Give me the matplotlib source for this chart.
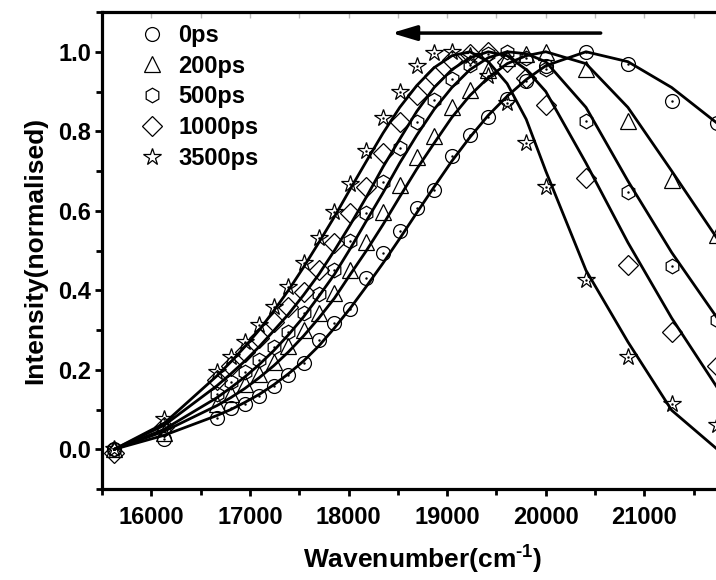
import matplotlib.pyplot as plt
from matplotlib.lines import Line2D

plt.rcParams['font.family'] = ['Liberation Sans', 'DejaVu Sans']
plt.rcParams['font.weight'] = 'bold'
plt.rcParams['mathtext.fontset'] = 'custom'
plt.rcParams['mathtext.rm'] = 'Liberation Sans:bold'
plt.rcParams['mathtext.bf'] = 'Liberation Sans:bold'

# wavenumber grid (cm-1), same for all delays
wavenumber = [15625, 16129, 16667, 16807, 16949, 17094, 17241, 17391, 17544, 17699,
              17857, 18018, 18182, 18349, 18519, 18692, 18868, 19048, 19231, 19417,
              19608, 19802, 20000, 20408, 20833, 21277, 21739]

labels = ['0ps', '200ps', '500ps', '1000ps', '3500ps']

# measured points
pts_0 = [0.0, 0.027, 0.078, 0.105, 0.113, 0.135, 0.16, 0.186, 0.217, 0.276, 0.317, 0.352, 0.43, 0.494,
         0.548, 0.607, 0.652, 0.738, 0.79, 0.837, 0.882, 0.927, 0.965, 1.0, 0.969, 0.877, 0.82]
pts_200 = [0.0, 0.04, 0.115, 0.14, 0.165, 0.19, 0.22, 0.26, 0.3, 0.342, 0.392, 0.45, 0.522, 0.598,
           0.665, 0.736, 0.788, 0.86, 0.904, 0.955, 0.985, 0.995, 1.0, 0.956, 0.827, 0.678, 0.54]
pts_500 = [0.0, 0.05, 0.14, 0.17, 0.195, 0.224, 0.256, 0.295, 0.343, 0.39, 0.451, 0.525, 0.594, 0.672,
           0.757, 0.824, 0.879, 0.932, 0.967, 0.995, 1.0, 0.985, 0.957, 0.827, 0.647, 0.461, 0.325]
pts_1000 = [-0.01, 0.055, 0.175, 0.21, 0.245, 0.28, 0.32, 0.358, 0.396, 0.451, 0.518, 0.594, 0.66, 0.745,
            0.824, 0.892, 0.94, 0.98, 0.995, 1.0, 0.975, 0.934, 0.866, 0.682, 0.463, 0.296, 0.21]
pts_3500 = [0.0, 0.077, 0.195, 0.233, 0.27, 0.312, 0.358, 0.409, 0.468, 0.531, 0.598, 0.667, 0.75, 0.833,
            0.9, 0.963, 0.998, 1.0, 0.99, 0.94, 0.87, 0.77, 0.66, 0.426, 0.231, 0.113, 0.06]

# fitted curves
fit_0 = [0.0, 0.035, 0.085, 0.1, 0.118, 0.138, 0.162, 0.19, 0.222, 0.26, 0.305, 0.355, 0.41, 0.468,
         0.53, 0.595, 0.66, 0.725, 0.785, 0.84, 0.888, 0.93, 0.965, 1.0, 0.975, 0.91, 0.82]
fit_200 = [0.0, 0.045, 0.11, 0.13, 0.153, 0.18, 0.21, 0.245, 0.285, 0.33, 0.38, 0.44, 0.5, 0.565,
           0.635, 0.705, 0.77, 0.835, 0.89, 0.935, 0.97, 0.99, 1.0, 0.97, 0.86, 0.7, 0.53]
fit_500 = [0.0, 0.05, 0.13, 0.155, 0.182, 0.213, 0.248, 0.288, 0.333, 0.385, 0.44, 0.505, 0.575, 0.645,
           0.72, 0.79, 0.855, 0.91, 0.955, 0.985, 1.0, 0.995, 0.975, 0.86, 0.675, 0.495, 0.33]
fit_1000 = [0.0, 0.06, 0.16, 0.19, 0.222, 0.258, 0.298, 0.34, 0.388, 0.44, 0.5, 0.565, 0.635, 0.71,
            0.78, 0.85, 0.91, 0.955, 0.985, 1.0, 0.99, 0.955, 0.9, 0.72, 0.52, 0.33, 0.155]
fit_3500 = [0.0, 0.065, 0.185, 0.22, 0.258, 0.3, 0.348, 0.4, 0.458, 0.52, 0.585, 0.655, 0.725, 0.795,
            0.86, 0.915, 0.96, 0.99, 1.0, 0.975, 0.92, 0.83, 0.7, 0.45, 0.27, 0.098, 0.0]

points = [pts_0, pts_200, pts_500, pts_1000, pts_3500]
fits = [fit_0, fit_200, fit_500, fit_1000, fit_3500]
markers = ['o', '^', 'h', 'D', '*']
msizes = [10, 11, 10.5, 10.5, 13]
dotted = [True, False, True, False, True]

fig = plt.figure(figsize=(7.16, 5.8), dpi=100)
ax = fig.add_axes([102 / 716, 91 / 580, 641 / 716, 477 / 580])

handles = []
for pts, fit, m, ms, dot, lab in zip(points, fits, markers, msizes, dotted, labels):
    ax.plot(wavenumber, fit, color='black', lw=2, zorder=2)
    ax.plot(wavenumber, pts, ls='none', marker=m, ms=ms, mfc='none', mec='black', mew=0.9, zorder=3)
    if dot:
        ax.plot(wavenumber, pts, ls='none', marker='.', ms=1.5, color='black', zorder=3)
    handles.append(Line2D([], [], ls='none', marker=m, ms=ms, mfc='none', mec='black', mew=0.9))

ax.legend(handles, labels, loc='upper left', bbox_to_anchor=(0.045, 0.995), frameon=False,
          fontsize=17, handlelength=1.0, handletextpad=0.6, labelspacing=0.33, borderaxespad=0)

# shift arrow
ax.annotate('', xy=(18437, 1.047), xytext=(20557, 1.047),
            arrowprops=dict(arrowstyle='-|>,head_length=0.6,head_width=0.18', lw=2.5,
                            color='black', mutation_scale=25, shrinkA=0, shrinkB=0))

ax.set_xlim(15500, 22000)
ax.set_ylim(-0.1, 1.1)
ax.set_xticks([16000, 17000, 18000, 19000, 20000, 21000])
ax.set_xticks(range(15500, 22001, 500), minor=True)
ax.set_yticks([0.0, 0.2, 0.4, 0.6, 0.8, 1.0])
ax.set_yticks([-0.1, 0.1, 0.3, 0.5, 0.7, 0.9, 1.1], minor=True)
ax.set_yticklabels(['0.0', '0.2', '0.4', '0.6', '0.8', '1.0'])

ax.tick_params(which='major', direction='out', length=5, width=2, labelsize=17, pad=3)
ax.tick_params(which='minor', direction='out', length=4, width=2)
ax.tick_params(axis='x', which='major', pad=7)
for s in ax.spines.values():
    s.set_linewidth(2.3)

top = ax.secondary_xaxis('top')
top.set_xticks(range(15500, 22001, 500))
top.tick_params(direction='in', length=4, width=1, color='#bbbbbb', labeltop=False)
top.spines['top'].set_visible(False)

ax.set_xlabel(r'Wavenumber(cm$^{\text{-1}}$)', fontsize=19, fontweight='bold', labelpad=10)
ax.set_ylabel('Intensity(normalised)', fontsize=19, fontweight='bold', labelpad=8)

fig.savefig('out.png', dpi=100)
